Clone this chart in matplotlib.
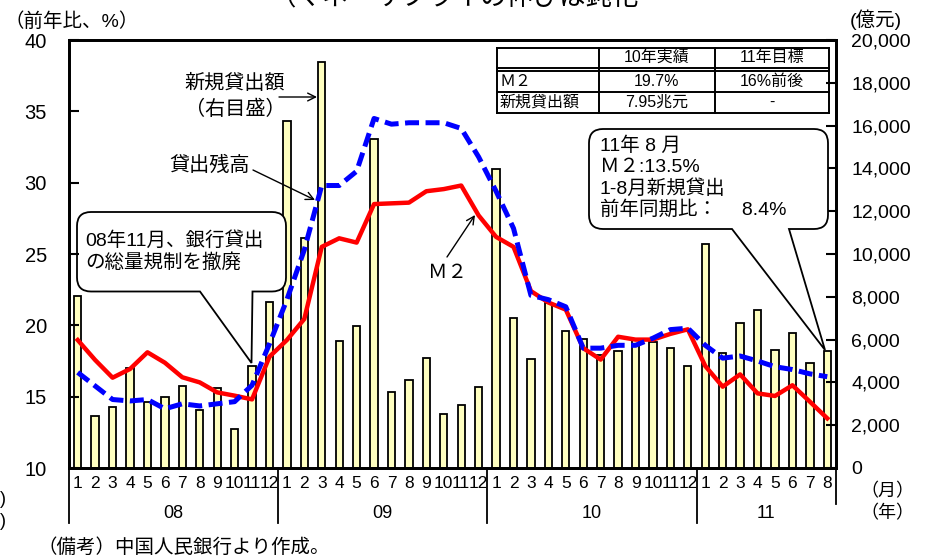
import matplotlib.pyplot as plt
import numpy as np
from matplotlib.path import Path
from matplotlib.patches import PathPatch, FancyArrowPatch
from matplotlib.lines import Line2D
from matplotlib.transforms import blended_transform_factory
from matplotlib.ticker import FuncFormatter

plt.rcParams['font.family'] = ['Liberation Sans', 'Noto Sans CJK JP']

years = ['08', '09', '10', '11']
months_per_year = [12, 12, 12, 8]
month_labels = [str(m) for n in months_per_year for m in range(1, n + 1)]

# new loans, 100 million yuan (right axis)
new_loans = [8050, 2430, 2840, 4650, 3100, 3330, 3830, 2710, 3750, 1810, 4780, 7740,
             16230, 10760, 18990, 5930, 6650, 15370, 3540, 4110, 5150, 2510, 2930, 3770,
             13970, 7000, 5090, 7720, 6400, 6030, 5280, 5470, 6000, 5870, 5620, 4780,
             10450, 5360, 6790, 7380, 5500, 6320, 4920, 5480]
# M2, yoy %
m2 = [18.97, 17.57, 16.33, 16.94, 18.11, 17.38, 16.36, 16.0, 15.3, 15.07, 14.81, 17.8,
      18.97, 20.45, 25.5, 26.1, 25.8, 28.5, 28.55, 28.6, 29.4, 29.55, 29.8, 27.7,
      26.2, 25.5, 22.4, 21.6, 21.1, 18.4, 17.6, 19.2, 19.0, 19.0, 19.4, 19.72,
      17.15, 15.7, 16.56, 15.23, 15.05, 15.8, 14.65, 13.48]
# loan balance, yoy %
loan_balance = [16.7, 15.75, 14.8, 14.7, 14.8, 14.15, 14.5, 14.35, 14.5, 14.65, 15.8, 18.7,
                21.8, 25.3, 29.8, 29.8, 30.8, 34.5, 34.1, 34.2, 34.2, 34.2, 33.8, 31.8,
                29.4, 26.8, 22.1, 21.8, 21.3, 18.4, 18.4, 18.6, 18.6, 19.1, 19.7, 19.8,
                18.6, 17.7, 17.85, 17.5, 17.1, 16.9, 16.6, 16.4]

table_cols = ['10年実績', '11年目標']
table_rows = ['Ｍ２', '新規貸出額']
table_cells = [['19.7%', '16%前後'], ['7.95兆元', '-']]

W, H = 937, 557
fig = plt.figure(figsize=(W / 100, H / 100), dpi=100)


def fx(x):
    return x / W


def fy(y):
    return 1 - y / H


ax = fig.add_axes([fx(69), fy(468), fx(836) - fx(69), fy(40) - fy(468)])
ax2 = ax.twinx()
x = np.arange(len(new_loans))
ax2.bar(x, new_loans, width=0.42, color='#FFFFC0', edgecolor='black', linewidth=1.3)
ax.plot(x, m2, color='#FF0000', lw=3.2)
ax.plot(x, loan_balance, color='#0000FF', lw=3.6, ls=(0, (2.8, 1.3)))
ax.set_zorder(ax2.get_zorder() + 1)
ax.patch.set_visible(False)

ax.set_xlim(-0.5, len(x) - 0.5)
ax.set_ylim(10, 40)
ax2.set_ylim(0, 20000)
ax.set_yticks(range(10, 41, 5))
ax2.set_yticks(range(0, 20001, 2000))
ax2.yaxis.set_major_formatter(FuncFormatter(lambda v, p: f'{int(v):,}'))
ax.tick_params(axis='y', direction='in', length=7, width=1.5, labelsize=14.5, pad=16)
ax2.tick_params(axis='y', direction='in', length=7, width=1.5, labelsize=14, pad=11)
ax.set_xticks(x)
ax.set_xticklabels(month_labels, fontsize=12.5, family=['Liberation Sans Narrow', 'Liberation Sans'])
ax.tick_params(axis='x', length=0, pad=6)
for a in (ax, ax2):
    for s in a.spines.values():
        s.set_linewidth(2)

# year groups under month labels
trans = blended_transform_factory(ax.transData, ax.transAxes)
bounds = np.cumsum([0] + months_per_year) - 0.5
for b in bounds[:-1]:
    ax.plot([b, b], [0, -55 / 428], transform=trans, clip_on=False, color='black', lw=1.3)
ax.plot([bounds[-1]] * 2, [0, -36 / 428], transform=trans, clip_on=False, color='black', lw=1.3)
for i, yr in enumerate(years):
    ax.text((bounds[i] + bounds[i + 1]) / 2, -45 / 428, yr, transform=trans,
            ha='center', va='center', fontsize=13)

# axis captions
fig.text(fx(5), fy(22), '（前年比、%）', ha='left', va='center', fontsize=14)
fig.text(fx(850), fy(20), '(億元)', ha='left', va='center', fontsize=14)
fig.text(fx(887), fy(492), '（月）', ha='center', va='center', fontsize=13)
fig.text(fx(887), fy(514), '（年）', ha='center', va='center', fontsize=13)
fig.text(fx(0), fy(499), ')', ha='left', va='center', fontsize=13)
fig.text(fx(0), fy(522), ')', ha='left', va='center', fontsize=13)
fig.text(fx(38), fy(548), '（備考）中国人民銀行より作成。', ha='left', va='center', fontsize=14)
fig.text(fx(270), fy(5), '（マネーサプライの伸びは鈍化', ha='left', va='baseline', fontsize=19)

# table
tl = dict(color='black', lw=1.4, transform=fig.transFigure)
tx0, tx1, tc1, tc2 = 497, 829, 599, 715
ty0, ty1, ty2, ty3 = 47.5, 67.5, 91.7, 113.3
for xa in (tx0, tc1, tc2, tx1):
    fig.add_artist(Line2D([fx(xa)] * 2, [fy(ty0), fy(ty3)], **tl))
for ya in (ty0, ty1, ty1 + 3, ty2, ty3):
    fig.add_artist(Line2D([fx(tx0), fx(tx1)], [fy(ya)] * 2, **tl))
col_cx = [(tc1 + tc2) / 2, (tc2 + tx1) / 2]
row_cy = [(ty1 + 3 + ty2) / 2, (ty2 + ty3) / 2]
for j, c in enumerate(table_cols):
    fig.text(fx(col_cx[j]), fy((ty0 + ty1) / 2), c, ha='center', va='center', fontsize=11.5)
for i, r in enumerate(table_rows):
    fig.text(fx(tx0 + 3), fy(row_cy[i]), r, ha='left', va='center', fontsize=11.5)
    for j, v in enumerate(table_cells[i]):
        fig.text(fx(col_cx[j]), fy(row_cy[i]), v, ha='center', va='center', fontsize=11.5)


def callout(x0, y0, x1, y1, r, wa, wb, tip):
    pts = [(x0 + r, y0), (x1 - r, y0), (x1, y0), (x1, y0 + r), (x1, y1 - r), (x1, y1), (x1 - r, y1),
           (wb, y1), tip, (wa, y1), (x0 + r, y1), (x0, y1), (x0, y1 - r), (x0, y0 + r), (x0, y0),
           (x0 + r, y0), (x0 + r, y0)]
    codes = [Path.MOVETO, Path.LINETO, Path.CURVE3, Path.CURVE3, Path.LINETO, Path.CURVE3, Path.CURVE3,
             Path.LINETO, Path.LINETO, Path.LINETO, Path.LINETO, Path.CURVE3, Path.CURVE3, Path.LINETO,
             Path.CURVE3, Path.CURVE3, Path.CLOSEPOLY]
    verts = [(fx(px), fy(py)) for px, py in pts]
    fig.add_artist(PathPatch(Path(verts, codes), facecolor='white', edgecolor='black',
                             lw=1.3, transform=fig.transFigure))


def arrow(p0, p1):
    fig.add_artist(FancyArrowPatch((fx(p0[0]), fy(p0[1])), (fx(p1[0]), fy(p1[1])),
                                   transform=fig.transFigure, arrowstyle='->', mutation_scale=14,
                                   lw=1, color='black', shrinkA=0, shrinkB=0))


callout(77, 212, 286, 291.5, 14, 200, 252.5, (251.5, 363))
fig.text(fx(85), fy(241), '08年11月、銀行貸出', ha='left', va='center', fontsize=14)
fig.text(fx(85), fy(263), 'の総量規制を撤廃', ha='left', va='center', fontsize=14)

callout(589, 129, 828, 229, 14, 732, 789, (825, 350))
for k, line in enumerate(['11年 8 月', 'Ｍ２:13.5%', '1-8月新規貸出', '前年同期比：　 8.4%']):
    fig.text(fx(600), fy(146 + 21.3 * k), line, ha='left', va='center', fontsize=14)

fig.text(fx(235), fy(83), '新規貸出額', ha='center', va='center', fontsize=14.5)
fig.text(fx(235), fy(109), '（右目盛）', ha='center', va='center', fontsize=14.5)
arrow((279, 97), (317, 97))
fig.text(fx(210), fy(165), '貸出残高', ha='center', va='center', fontsize=14.5)
arrow((253, 170), (315, 200))
fig.text(fx(448), fy(273), 'Ｍ２', ha='center', va='center', fontsize=14)
arrow((447, 257), (475, 215))

fig.savefig('out.png', dpi=100)
